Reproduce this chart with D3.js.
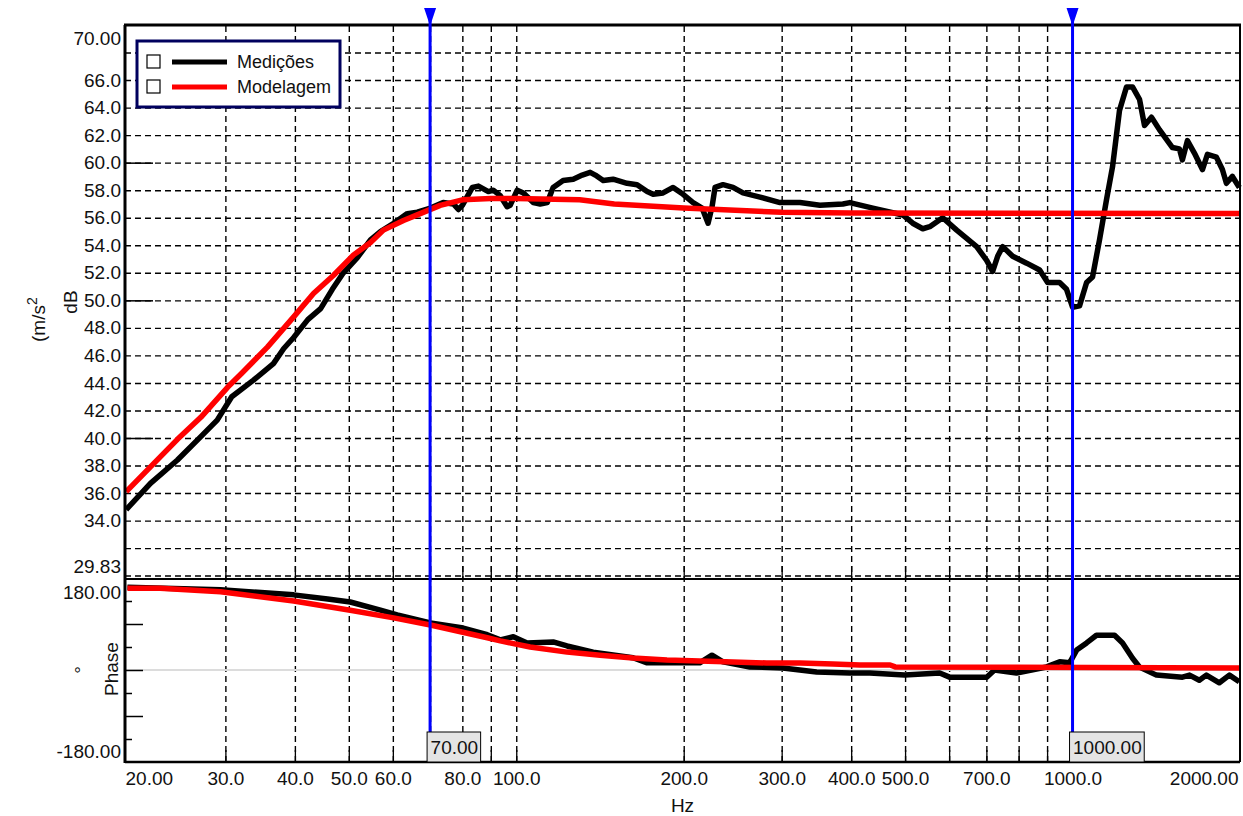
<!DOCTYPE html>
<html>
<head>
<meta charset="utf-8">
<script src="https://cdn.jsdelivr.net/npm/d3@7"></script>
<style>
  body { margin: 0; background: #fff; }
  svg text { font-family: "Liberation Sans", Arial, sans-serif; font-size: 19px; fill: #111; }
  .grid line { stroke: #000; stroke-width: 1.4; stroke-dasharray: 6,4; }
  .grid path { display: none; }
  .lbl path, .lbl line { display: none; }
</style>
</head>
<body>
<div id="chart"></div>
<script>
// --- data ---
var measFreq = [19.9, 22.0, 24.6, 27.1, 29.0, 30.8, 33.7, 36.6, 38.2, 39.8, 42.2, 44.5, 46.7, 48.9, 51.8, 54.7, 57.0, 60.2, 63.7, 66.4,
                70.1, 73.9, 77.1, 78.7, 80.0, 83.4, 85.5, 89.1, 90.9, 93.6, 96.3, 97.5, 100.4, 103, 107.3, 110.4, 113.7, 116.5, 121.4, 126.6,
                131.4, 135.8, 138.7, 143.3, 149.3, 158.2, 164.9, 171.9, 176.2, 183.6, 191.4, 199.5, 207.9, 215.8, 221.2, 224.9, 227.7, 235.3, 245.3, 255.6,
                274.3, 297.9, 323.6, 351.5, 386.5, 397.8, 437.5, 495.2, 516.1, 538, 553.8, 584.3, 619.1, 672.4, 700.8, 718.4, 733.4, 748.9, 780.5, 826.9,
                872.7, 902, 947.7, 975.5, 1000, 1029.4, 1059.9, 1086.3, 1118.2, 1150.9, 1180, 1214.6, 1250.2, 1281.7, 1319.4, 1347, 1386.5, 1432.6, 1512, 1556.4,
                1575.8, 1608.8, 1655.9, 1712, 1747.8, 1813.8, 1859.4, 1890.6, 1938.2, 1994.6];
var measDb = [34.8, 36.7, 38.4, 40.1, 41.3, 43.0, 44.2, 45.4, 46.5, 47.3, 48.6, 49.4, 50.8, 52.0, 53.1, 54.4, 55.0, 55.6, 56.3, 56.4,
              56.7, 57.1, 57.0, 56.6, 56.9, 58.2, 58.3, 57.9, 58.0, 57.6, 56.8, 56.9, 58.0, 57.8, 57.1, 57.0, 57.1, 58.2, 58.7, 58.8,
              59.1, 59.3, 59.1, 58.7, 58.8, 58.5, 58.4, 57.9, 57.7, 57.8, 58.2, 57.7, 57.1, 56.7, 55.6, 56.8, 58.2, 58.4, 58.2, 57.8,
              57.5, 57.1, 57.1, 56.9, 57.0, 57.1, 56.7, 56.2, 55.6, 55.2, 55.35, 56.0, 55.1, 53.9, 52.9, 52.1, 53.2, 53.9, 53.2, 52.7,
              52.2, 51.3, 51.3, 50.8, 49.5, 49.6, 51.3, 51.7, 54.4, 57.3, 59.7, 63.8, 65.5, 65.5, 64.6, 62.7, 63.3, 62.4, 61.1, 61.0,
              60.2, 61.6, 60.7, 59.5, 60.6, 60.4, 59.5, 58.5, 59.0, 58.2];

var modelFreq = [19.9, 22.0, 24.6, 27.1, 30.3, 32.1, 35.7, 39.8, 43.2, 46.9, 51.0, 54.7, 57.7, 62.7, 67.2, 73.0, 80, 90, 100, 130,
                 150, 200, 300, 400, 2000];
var modelDb = [36.1, 37.9, 39.9, 41.5, 43.7, 44.7, 46.6, 48.8, 50.5, 51.8, 53.3, 54.2, 55.1, 55.8, 56.3, 56.9, 57.3, 57.4, 57.4, 57.3,
               57.0, 56.7, 56.4, 56.35, 56.3];

var measPhFreq = [20, 29.4, 39.8, 45.8, 50.3, 57.0, 61.1, 70.1, 80.3, 88.7, 93.6, 98.8, 104.6, 116.5, 123.4, 137.5, 162.1, 171.9, 191.4, 213.7,
                  224.8, 235.3, 263, 301.4, 346.7, 397.8, 432, 499, 577, 601, 701, 724, 793, 898, 948, 988, 1017, 1060, 1104, 1190,
                  1230, 1282, 1319, 1415, 1576, 1623, 1690, 1740, 1836, 1914, 1994];
var measPhase = [162, 157, 147, 139, 133, 117, 108, 92, 82, 69, 59, 65, 53, 55, 47, 35, 24, 14, 14, 14,
                 29, 16, 6, 4, -4, -6, -6, -10, -6, -14, -14, 0, -6, 6, 16, 14, 39, 53, 68, 68,
                 53, 23, 6, -10, -14, -10, -20, -10, -25, -10, -23];

var modelPhFreq = [20, 22.9, 29.4, 39.8, 50.3, 60.2, 70.1, 88.7, 93.6, 105.9, 123.4, 141.5, 162.1, 186.6, 213.7, 245.3, 281.8, 323.6, 370.9, 414.9,
                   470, 480, 2000];
var modelPhase = [160, 160, 153, 135, 117, 102, 88, 63, 57, 45, 35, 29, 23.5, 19.6, 17.6, 15.7, 13.7, 13.7, 11.7, 9.8,
                  9.8, 6, 4];

var seriesNames = ["Medições", "Modelagem"];
var seriesColors = ["#000000", "#ff0000"];

var xTicks = [20, 30, 40, 50, 60, 80, 100, 200, 300, 400, 500, 700, 1000, 2000];
var xGrid = [30, 40, 50, 60, 70, 80, 90, 100, 200, 300, 400, 500, 600, 700, 800, 900, 1000];
var dbTicks = [29.83, 34, 36, 38, 40, 42, 44, 46, 48, 50, 52, 54, 56, 58, 60, 62, 64, 66, 70];
var dbGrid = d3.range(32, 69, 2);
var dbMajor = [40, 50, 60];
var phTicks = [-180, 180];
var phMinor = [-135, -45, 45, 135];
var phMajor = [-90, 0, 90];
var cursors = [70, 1000];

// --- layout ---
var W = 1243, H = 816;
var mLeft = 125, mRight = 1240, mTop = 25, mSplit = 578, mBottom = 762;

var x = d3.scaleLog().domain([19.8, 2000]).range([mLeft, mRight]);
var yDb = d3.scaleLinear().domain([29.83, 70]).range([mSplit, mTop]);
var yPh = d3.scaleLinear().domain([-180, 180]).range([mBottom, mSplit]);

var fmtNum = function(p) {
    return function(d) { return d3.format("." + p + "f")(d).replace("\u2212", "-"); };
};

var svg = d3.select("#chart").append("svg")
    .attr("width", W)
    .attr("height", H);

// vertical grid through both panels
svg.append("g")
    .attr("class", "grid")
    .attr("transform", "translate(0," + mBottom + ")")
    .call(d3.axisBottom(x).tickValues(xGrid).tickFormat("").tickSize(-(mBottom - mTop)));

// horizontal grid, magnitude panel
svg.append("g")
    .attr("class", "grid")
    .attr("transform", "translate(" + mLeft + ",0)")
    .call(d3.axisLeft(yDb).tickValues(dbGrid).tickFormat("").tickSize(-(mRight - mLeft)));

// zero line in phase panel
svg.append("line")
    .attr("x1", mLeft).attr("x2", mRight)
    .attr("y1", yPh(0)).attr("y2", yPh(0))
    .style("stroke", "#dcdcdc").style("stroke-width", 2);

// dashed bottom edge of magnitude panel
svg.append("line")
    .attr("x1", mLeft).attr("x2", mRight)
    .attr("y1", mSplit - 2).attr("y2", mSplit - 2)
    .style("stroke", "#000").style("stroke-width", 1.3).style("stroke-dasharray", "6,4");

// left ticks
svg.append("g")
    .attr("transform", "translate(" + mLeft + ",0)")
    .call(d3.axisRight(yDb).tickValues(dbMajor).tickFormat("").tickSize(28))
    .call(function(g) { g.select(".domain").remove(); g.selectAll("line").style("stroke-width", 1.5); });

svg.append("g")
    .attr("transform", "translate(" + mLeft + ",0)")
    .call(d3.axisRight(yPh).tickValues(phMajor).tickFormat("").tickSize(18))
    .call(function(g) { g.select(".domain").remove(); g.selectAll("line").style("stroke-width", 1.5); });

svg.append("g")
    .attr("transform", "translate(" + mLeft + ",0)")
    .call(d3.axisRight(yPh).tickValues(phMinor).tickFormat("").tickSize(7))
    .call(function(g) { g.select(".domain").remove(); g.selectAll("line").style("stroke-width", 1.5); });

// short solid ticks on x at bottom of each panel
[mSplit, mBottom].forEach(function(yy) {
    svg.append("g")
        .attr("transform", "translate(0," + yy + ")")
        .call(d3.axisTop(x).tickValues(xGrid).tickFormat("").tickSize(12))
        .call(function(g) { g.select(".domain").remove(); g.selectAll("line").style("stroke-width", 1.3); });
});

// curves
var magLine = d3.line()
    .x(function(d) { return x(d[0]); })
    .y(function(d) { return yDb(d[1]); });
var phLine = d3.line()
    .x(function(d) { return x(d[0]); })
    .y(function(d) { return yPh(d[1]); });

var curves = [
    { f: measFreq, v: measDb, line: magLine, c: seriesColors[0] },
    { f: measPhFreq, v: measPhase, line: phLine, c: seriesColors[0] },
    { f: modelFreq, v: modelDb, line: magLine, c: seriesColors[1] },
    { f: modelPhFreq, v: modelPhase, line: phLine, c: seriesColors[1] }
];
curves.forEach(function(s) {
    svg.append("path")
        .datum(d3.zip(s.f, s.v))
        .attr("d", s.line)
        .style("fill", "none")
        .style("stroke", s.c)
        .style("stroke-width", 5.5)
        .style("stroke-linejoin", "round");
});

// frame
svg.append("line").attr("x1", mLeft - 1).attr("x2", mRight + 1).attr("y1", mTop).attr("y2", mTop)
    .style("stroke", "#000").style("stroke-width", 3);
svg.append("line").attr("x1", mLeft).attr("x2", mLeft).attr("y1", mTop).attr("y2", mBottom + 1)
    .style("stroke", "#000").style("stroke-width", 3);
svg.append("line").attr("x1", mRight).attr("x2", mRight).attr("y1", mTop).attr("y2", mBottom)
    .style("stroke", "#000").style("stroke-width", 2);
svg.append("line").attr("x1", mLeft).attr("x2", mRight).attr("y1", mBottom).attr("y2", mBottom)
    .style("stroke", "#000").style("stroke-width", 2.5);
svg.append("line").attr("x1", mLeft).attr("x2", mRight).attr("y1", mSplit + 1).attr("y2", mSplit + 1)
    .style("stroke", "#000").style("stroke-width", 2);

// tick labels
var gx = svg.append("g")
    .attr("class", "lbl")
    .attr("transform", "translate(0," + mBottom + ")")
    .call(d3.axisBottom(x).tickValues(xTicks).tickSize(0).tickPadding(10)
        .tickFormat(function(d) { return (d == 20 || d == 2000) ? fmtNum(2)(d) : fmtNum(1)(d); }));
gx.selectAll("text").style("font-size", "19px");
gx.selectAll("text").filter(function(d) { return d == 20; })
    .attr("text-anchor", "start").attr("x", mLeft - x(20));
gx.selectAll("text").filter(function(d) { return d == 2000; })
    .attr("text-anchor", "end").attr("x", -2);

var gy = svg.append("g")
    .attr("class", "lbl")
    .attr("transform", "translate(" + (mLeft - 1) + ",0)")
    .call(d3.axisLeft(yDb).tickValues(dbTicks).tickSize(0).tickPadding(3)
        .tickFormat(function(d) { return (d == 70 || d == 29.83) ? fmtNum(2)(d) : fmtNum(1)(d); }));
gy.selectAll("text").style("font-size", "19px");
gy.selectAll("text").filter(function(d) { return d == 70; }).attr("y", 13);
gy.selectAll("text").filter(function(d) { return d == 29.83; }).attr("y", -12);

var gp = svg.append("g")
    .attr("class", "lbl")
    .attr("transform", "translate(" + (mLeft - 1) + ",0)")
    .call(d3.axisLeft(yPh).tickValues(phTicks).tickSize(0).tickPadding(3).tickFormat(fmtNum(2)));
gp.selectAll("text").style("font-size", "19px");
gp.selectAll("text").filter(function(d) { return d == 180; }).attr("y", 14);
gp.selectAll("text").filter(function(d) { return d == -180; }).attr("y", -11);

// axis titles
svg.append("text")
    .attr("x", (mLeft + mRight) / 2).attr("y", 812)
    .attr("text-anchor", "middle")
    .text("Hz");

svg.append("text")
    .attr("transform", "translate(77,302) rotate(-90)")
    .attr("text-anchor", "middle")
    .text("dB");

var unit = svg.append("text")
    .attr("transform", "translate(45,342) rotate(-90)")
    .attr("text-anchor", "start");
unit.append("tspan").text("(m/s");
unit.append("tspan").attr("dy", -8).style("font-size", "14px").text("2");

svg.append("text")
    .attr("transform", "translate(118,669) rotate(-90)")
    .attr("text-anchor", "middle")
    .text("Phase");

svg.append("text")
    .attr("transform", "translate(88,670) rotate(-90)")
    .attr("text-anchor", "middle")
    .text("°");

// legend
var legend = svg.append("g");
legend.append("rect")
    .attr("x", 137).attr("y", 41).attr("width", 203).attr("height", 66)
    .style("fill", "#fff").style("stroke", "#00005e").style("stroke-width", 3);

var items = legend.selectAll(".item")
    .data(seriesNames)
    .enter().append("g")
    .attr("class", "item")
    .attr("transform", function(d, i) { return "translate(0," + (62 + i * 25) + ")"; });
items.append("rect")
    .attr("x", 147).attr("y", -7).attr("width", 13).attr("height", 13)
    .style("fill", "#fff").style("stroke", "#000").style("stroke-width", 1.2);
items.append("line")
    .attr("x1", 172).attr("x2", 227)
    .style("stroke", function(d, i) { return seriesColors[i]; })
    .style("stroke-width", 5);
items.append("text")
    .attr("x", 237).attr("dy", "0.35em")
    .style("font-size", "18px")
    .text(function(d) { return d; });

// cursors
var cur = svg.selectAll(".cursor")
    .data(cursors)
    .enter().append("g")
    .attr("class", "cursor");
cur.append("line")
    .attr("x1", function(d) { return x(d); })
    .attr("x2", function(d) { return x(d); })
    .attr("y1", 10).attr("y2", 732)
    .style("stroke", "#0000ff").style("stroke-width", 3);
cur.append("path")
    .attr("d", function(d) { var cx = x(d); return "M" + (cx - 6) + ",8L" + (cx + 6) + ",8L" + cx + ",26Z"; })
    .style("fill", "#0000ff");
var curText = cur.append("text")
    .attr("x", function(d) { return x(d) + 0.5; })
    .attr("y", 754)
    .text(function(d) { return d3.format(".2f")(d); });
cur.insert("rect", "text")
    .attr("x", function(d) { return x(d) - 3; })
    .attr("y", 732)
    .attr("height", 30)
    .attr("width", function(d, i) { return curText.nodes()[i].getComputedTextLength() + 6; })
    .style("fill", "#e4e4e4").style("stroke", "#000").style("stroke-width", 1);
</script>
</body>
</html>
